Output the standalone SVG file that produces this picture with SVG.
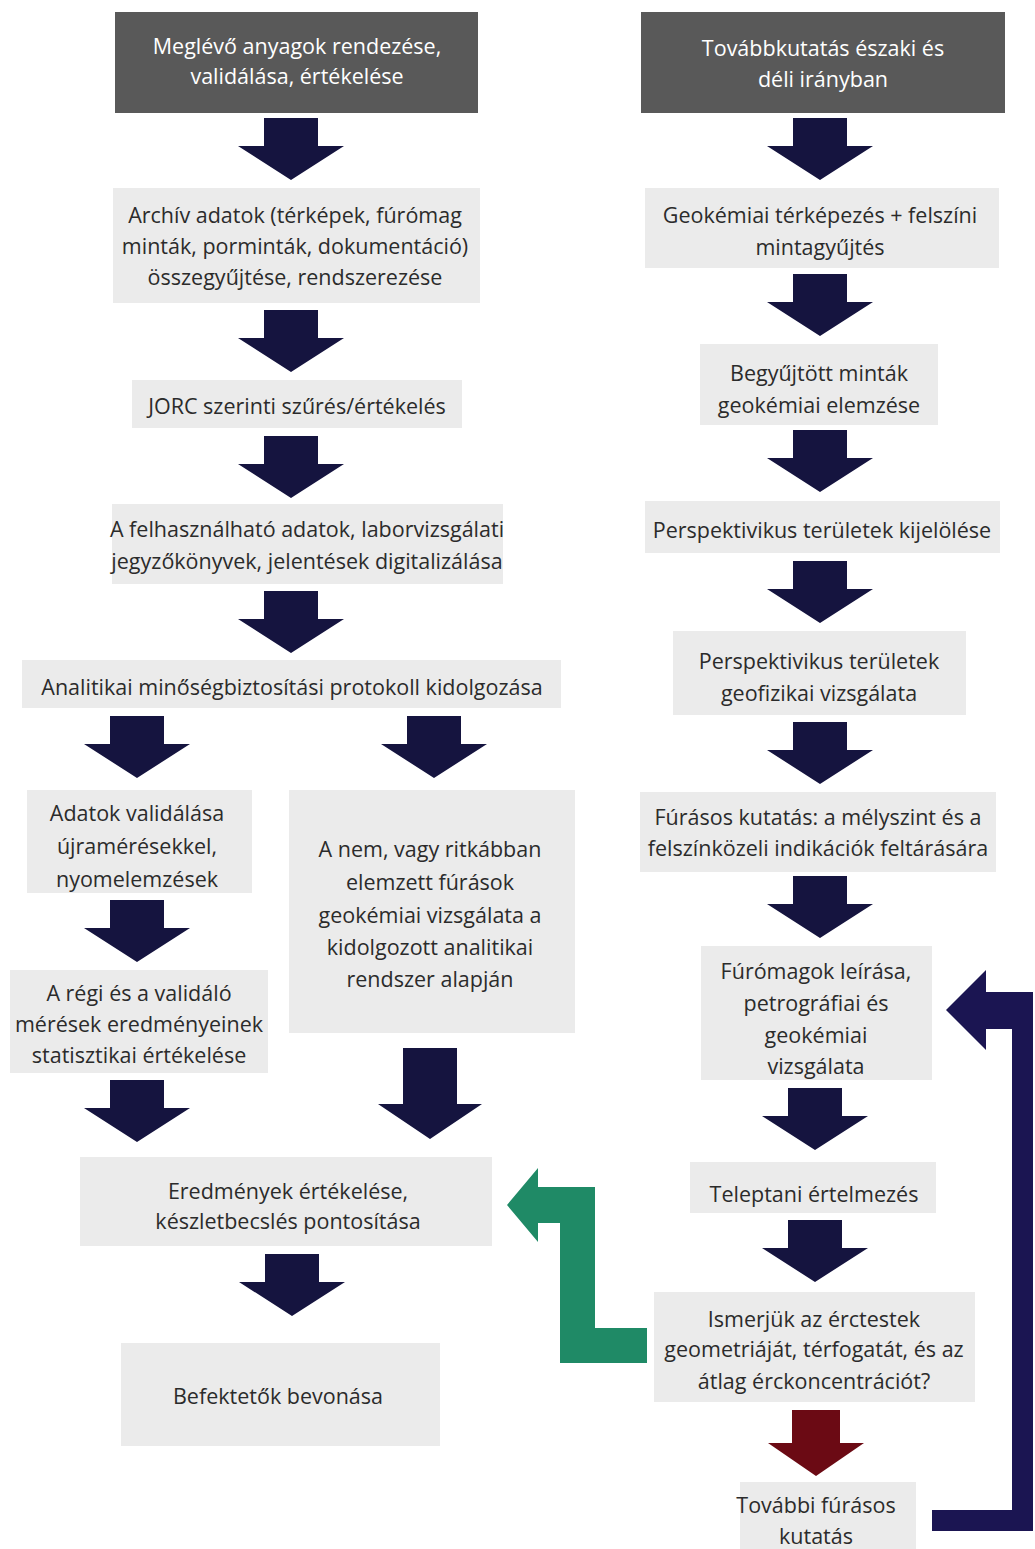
<svg xmlns="http://www.w3.org/2000/svg" xmlns:xlink="http://www.w3.org/1999/xlink" width="1035" height="1549" viewBox="0 0 1035 1549">
  <style>
    .dark { fill: #595959; }
    .light { fill: #ebebeb; }
    .t { font-family: "Open Sans", "Noto Sans", "DejaVu Sans", sans-serif; font-size: 21.5px; text-anchor: middle; dominant-baseline: central; fill: #2b2b2b; }
    .tw { fill: #ffffff; }
    .down { fill: #15143f; }
  </style>
  <defs>
    <!-- standard block arrow pointing down, tip at (0,62) -->
    <path id="dn" d="M -27 0 H 27 V 28 H 53 L 0 62 L -53 28 H -27 Z"/>
  </defs>

  <!-- left column -->
  <g id="n-meglevo">
    <rect class="dark" x="115" y="12" width="363" height="101"/>
    <text class="t tw" x="297" y="45">Meglévő anyagok rendezése,</text>
    <text class="t tw" x="297" y="75">validálása, értékelése</text>
  </g>
  <g id="n-archiv">
    <rect class="light" x="113" y="188" width="367" height="115"/>
    <text class="t" x="295" y="214">Archív adatok (térképek, fúrómag</text>
    <text class="t" x="295" y="245">minták, porminták, dokumentáció)</text>
    <text class="t" x="295" y="276">összegyűjtése, rendszerezése</text>
  </g>
  <g id="n-jorc">
    <rect class="light" x="132" y="380" width="330" height="48"/>
    <text class="t" x="297" y="405">JORC szerinti szűrés/értékelés</text>
  </g>
  <g id="n-digit">
    <rect class="light" x="112" y="504" width="391" height="80"/>
    <text class="t" x="307" y="528">A felhasználható adatok, laborvizsgálati</text>
    <text class="t" x="307" y="560">jegyzőkönyvek, jelentések digitalizálása</text>
  </g>
  <g id="n-protokoll">
    <rect class="light" x="22" y="660" width="539" height="48"/>
    <text class="t" x="292" y="686">Analitikai minőségbiztosítási protokoll kidolgozása</text>
  </g>
  <g id="n-validalas">
    <rect class="light" x="27" y="790" width="225" height="103"/>
    <text class="t" x="137" y="812">Adatok validálása</text>
    <text class="t" x="137" y="845">újramérésekkel,</text>
    <text class="t" x="137" y="878">nyomelemzések</text>
  </g>
  <g id="n-ritkabban">
    <rect class="light" x="289" y="790" width="286" height="243"/>
    <text class="t" x="430" y="848">A nem, vagy ritkábban</text>
    <text class="t" x="430" y="881">elemzett fúrások</text>
    <text class="t" x="430" y="914">geokémiai vizsgálata a</text>
    <text class="t" x="430" y="946">kidolgozott analitikai</text>
    <text class="t" x="430" y="978">rendszer alapján</text>
  </g>
  <g id="n-statisztika">
    <rect class="light" x="10" y="970" width="258" height="103"/>
    <text class="t" x="139" y="992">A régi és a validáló</text>
    <text class="t" x="139" y="1023">mérések eredményeinek</text>
    <text class="t" x="139" y="1054">statisztikai értékelése</text>
  </g>
  <g id="n-eredmenyek">
    <rect class="light" x="80" y="1157" width="412" height="89"/>
    <text class="t" x="288" y="1190">Eredmények értékelése,</text>
    <text class="t" x="288" y="1220">készletbecslés pontosítása</text>
  </g>
  <g id="n-befektetok">
    <rect class="light" x="121" y="1343" width="319" height="103"/>
    <text class="t" x="278" y="1395">Befektetők bevonása</text>
  </g>

  <!-- right column -->
  <g id="n-tovabbkutatas">
    <rect class="dark" x="641" y="12" width="364" height="101"/>
    <text class="t tw" x="823" y="47">Továbbkutatás északi és</text>
    <text class="t tw" x="823" y="78">déli irányban</text>
  </g>
  <g id="n-terkepezes">
    <rect class="light" x="645" y="188" width="354" height="80"/>
    <text class="t" x="820" y="214">Geokémiai térképezés + felszíni</text>
    <text class="t" x="820" y="246">mintagyűjtés</text>
  </g>
  <g id="n-mintak">
    <rect class="light" x="700" y="344" width="238" height="81"/>
    <text class="t" x="819" y="372">Begyűjtött minták</text>
    <text class="t" x="819" y="404">geokémiai elemzése</text>
  </g>
  <g id="n-kijeloles">
    <rect class="light" x="645" y="501" width="355" height="52"/>
    <text class="t" x="822" y="529">Perspektivikus területek kijelölése</text>
  </g>
  <g id="n-geofizika">
    <rect class="light" x="673" y="631" width="293" height="84"/>
    <text class="t" x="819" y="660">Perspektivikus területek</text>
    <text class="t" x="819" y="692">geofizikai vizsgálata</text>
  </g>
  <g id="n-furasos">
    <rect class="light" x="640" y="792" width="356" height="80"/>
    <text class="t" x="818" y="816">Fúrásos kutatás: a mélyszint és a</text>
    <text class="t" x="818" y="847">felszínközeli indikációk feltárására</text>
  </g>
  <g id="n-furomagok">
    <rect class="light" x="701" y="946" width="231" height="134"/>
    <text class="t" x="816" y="970">Fúrómagok leírása,</text>
    <text class="t" x="816" y="1002">petrográfiai és</text>
    <text class="t" x="816" y="1034">geokémiai</text>
    <text class="t" x="816" y="1065">vizsgálata</text>
  </g>
  <g id="n-teleptani">
    <rect class="light" x="690" y="1162" width="246" height="51"/>
    <text class="t" x="814" y="1193">Teleptani értelmezés</text>
  </g>
  <g id="n-ismerjuk">
    <rect class="light" x="654" y="1292" width="321" height="110"/>
    <text class="t" x="814" y="1318">Ismerjük az érctestek</text>
    <text class="t" x="814" y="1348">geometriáját, térfogatát, és az</text>
    <text class="t" x="814" y="1380">átlag érckoncentrációt?</text>
  </g>
  <g id="n-tovabbi">
    <rect class="light" x="740" y="1482" width="176" height="67"/>
    <text class="t" x="816" y="1504">További fúrásos</text>
    <text class="t" x="816" y="1535">kutatás</text>
  </g>

  <!-- connectors -->
  <g id="connectors">
    <g class="down">
      <use xlink:href="#dn" transform="translate(291,118)"/>
      <use xlink:href="#dn" transform="translate(291,310)"/>
      <use xlink:href="#dn" transform="translate(291,436)"/>
      <use xlink:href="#dn" transform="translate(291,591)"/>
      <use xlink:href="#dn" transform="translate(137,716)"/>
      <use xlink:href="#dn" transform="translate(434,716)"/>
      <use xlink:href="#dn" transform="translate(137,900)"/>
      <use xlink:href="#dn" transform="translate(137,1080)"/>
      <path d="M 403 1048 H 457 V 1104 H 482 L 430 1139 L 378 1104 H 403 Z"/>
      <use xlink:href="#dn" transform="translate(292,1254)"/>

      <use xlink:href="#dn" transform="translate(820,118)"/>
      <use xlink:href="#dn" transform="translate(820,274)"/>
      <use xlink:href="#dn" transform="translate(820,430)"/>
      <use xlink:href="#dn" transform="translate(820,561)"/>
      <use xlink:href="#dn" transform="translate(820,722)"/>
      <use xlink:href="#dn" transform="translate(820,876)"/>
      <use xlink:href="#dn" transform="translate(815,1088)"/>
      <use xlink:href="#dn" transform="translate(815,1220)"/>
    </g>
    <!-- "no" branch: drill further -->
    <path fill="#6b0a14" d="M 792 1410 H 840 V 1443 H 864 L 816 1476 L 768 1443 H 792 Z"/>
    <!-- "yes" branch back to evaluation -->
    <path fill="#1f8a66" d="M 507 1205 L 538 1168 V 1187 H 595 V 1328 H 647 V 1363 H 560 V 1223 H 538 V 1242 Z"/>
    <!-- loop back from further drilling to core logging -->
    <path fill="#1b1552" d="M 946 1010 L 986 970 V 992 H 1033 V 1531 H 932 V 1510 H 1012 V 1029 H 986 V 1050 Z"/>
  </g>
</svg>
